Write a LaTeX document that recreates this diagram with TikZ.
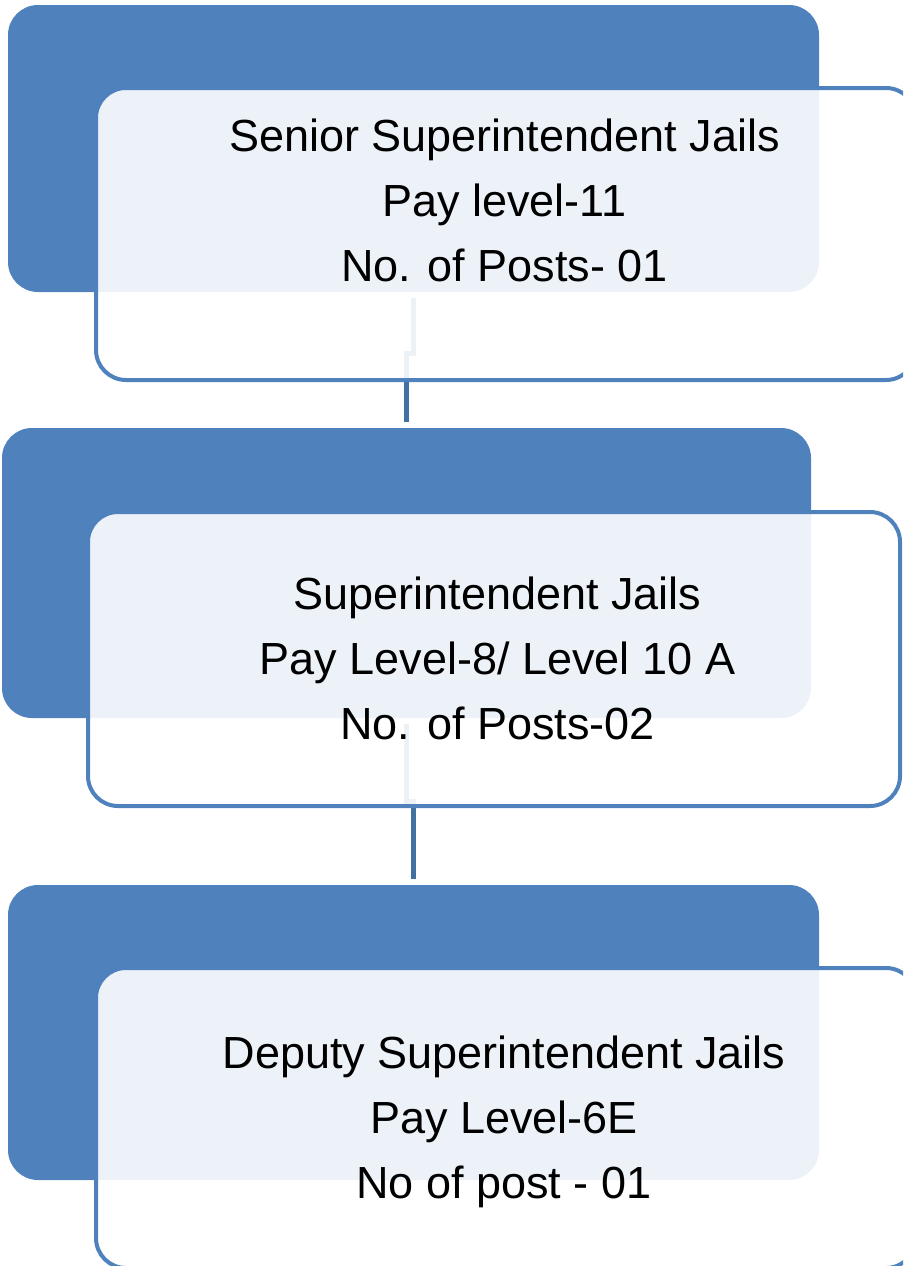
\documentclass[tikz,border=0pt]{standalone}
\usepackage{fontspec}
\setmainfont{Liberation Sans}
\usetikzlibrary{calc}
\definecolor{accent}{RGB}{79,129,189}
\definecolor{connblue}{RGB}{65,113,160}
\tikzset{
  backbox/.style={draw=none, fill=accent, rounded corners=30pt, inner sep=0pt},
  frontbox/.style={draw=accent, line width=4pt, fill=white, fill opacity=0.9, draw opacity=1, rounded corners=30pt, inner sep=0pt},
  conn/.style={draw=connblue, line width=5pt, shorten <=6pt, shorten >=6pt},
  label/.style={align=center, inner sep=0pt, font=\fontsize{45}{65}\selectfont, text opacity=1}
}
\begin{document}
\begin{tikzpicture}[x=1pt,y=-1pt]
\useasboundingbox (0,0) rectangle (903,1266);
\clip (0,0) rectangle (903,1266);
% back boxes
\node[backbox, minimum width=811pt, minimum height=287pt] (b1) at (413.5,148.5) {};
\node[backbox, minimum width=809pt, minimum height=290pt] (b2) at (406.5,573) {};
\node[backbox, minimum width=811pt, minimum height=295pt] (b3) at (413.5,1032.5) {};
% connectors
\draw[conn] (b1.south) |- ($(b1.south)!0.45!(b2.north)$) -| (b2.north);
\draw[conn] (b2.south) |- ($(b2.south)!0.5!(b3.north)$) -| (b3.north);
% front boxes
\node[frontbox, minimum width=820pt, minimum height=292pt] (f1) at (506,234) {};
\node[frontbox, minimum width=812pt, minimum height=294pt] (f2) at (494,659) {};
\node[frontbox, minimum width=820pt, minimum height=300pt] (f3) at (506,1118) {};
% labels
\node[label] (t1) at (504.5,200) {Senior Superintendent Jails\\Pay level-11\\No. of Posts- 01};
\node[label] (t2) at (497.5,658) {Superintendent Jails\\Pay Level-8/ Level 10 A\\No. of Posts-02};
\node[label] (t3) at (504,1122) {Deputy Superintendent Jails\\Pay Level-6E\\No of post - 01};
\end{tikzpicture}
\end{document}
